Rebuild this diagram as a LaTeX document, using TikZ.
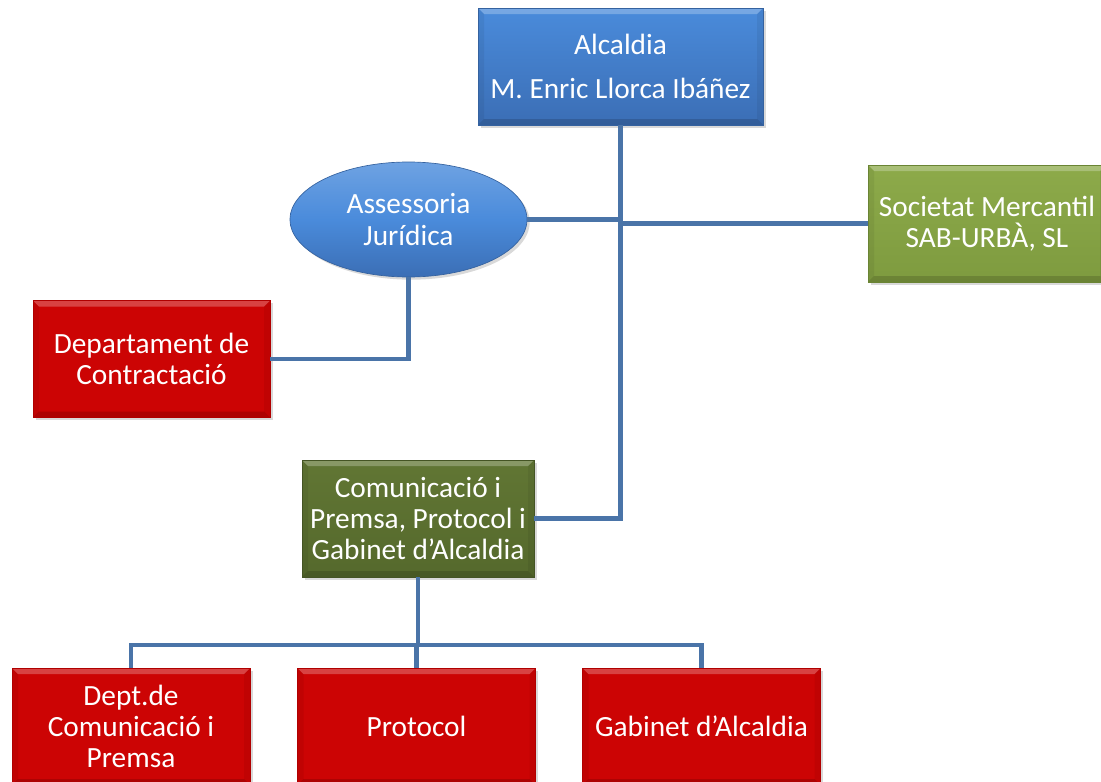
\documentclass[tikz,border=0pt]{standalone}
\usepackage{fontspec}
\setmainfont{Carlito}
\usepackage{tikz}
\usetikzlibrary{calc,shapes.geometric,shadows}

\definecolor{blueTop}{HTML}{4A8BDB}
\definecolor{blueBot}{HTML}{3B6EB5}
\definecolor{blueLine}{HTML}{35629F}
\definecolor{greenTop}{HTML}{8DAA4A}
\definecolor{greenBot}{HTML}{7E9B3F}
\definecolor{greenLine}{HTML}{6A8434}
\definecolor{olivTop}{HTML}{617634}
\definecolor{olivBot}{HTML}{55692C}
\definecolor{olivLine}{HTML}{445424}
\definecolor{redFill}{HTML}{CC0404}
\definecolor{redLine}{HTML}{B00000}
\definecolor{linkCol}{HTML}{4A74A8}

\begin{document}
\begin{tikzpicture}[x=0.75pt,y=-0.75pt,
  bevel/.style={path picture={
    \coordinate (bNW) at (path picture bounding box.north west);
    \coordinate (bNE) at (path picture bounding box.north east);
    \coordinate (bSW) at (path picture bounding box.south west);
    \coordinate (bSE) at (path picture bounding box.south east);
    \fill[white,opacity=0.25] (bNW) -- (bNE) -- ($(bNE)+(-6,6)$) -- ($(bNW)+(6,6)$) -- cycle;
    \fill[black,opacity=0.15] (bSW) -- (bSE) -- ($(bSE)+(-6,-6)$) -- ($(bSW)+(6,-6)$) -- cycle;
    \fill[black,opacity=0.06] (bNW) -- ($(bNW)+(6,6)$) -- ($(bSW)+(6,-6)$) -- (bSW) -- cycle;
    \fill[black,opacity=0.06] (bNE) -- ($(bNE)+(-6,6)$) -- ($(bSE)+(-6,-6)$) -- (bSE) -- cycle;
  }},
  orgbox/.style={rectangle, inner sep=0pt, align=center, text=white,
    font=\fontsize{22}{23.5}\selectfont, minimum width=178.5pt, minimum height=87.75pt,
    line width=0.5pt, drop shadow={opacity=0.3, shadow xshift=2pt, shadow yshift=-2pt}},
  bluebox/.style={orgbox, draw=blueLine, top color=blueTop, bottom color=blueBot, bevel},
  blueoval/.style={orgbox, ellipse, draw=blueLine, top color=blueTop!80!white,
    bottom color=blueBot, middle color=blueTop},
  greenbox/.style={orgbox, draw=greenLine, top color=greenTop, bottom color=greenBot, bevel},
  olivbox/.style={orgbox, draw=olivLine, top color=olivTop, bottom color=olivBot, bevel},
  redbox/.style={orgbox, draw=redLine, fill=redFill, bevel},
  link/.style={draw=linkCol, line width=3.6pt}]

  \useasboundingbox (0,0) rectangle (1101,782);

  %% Top of the chart
  \node[bluebox, minimum width=213.75pt] (ALC) at (620.5,66.5)
       {Alcaldia\\[9.5pt] M. Enric Llorca Ibáñez};
  \node[blueoval, minimum width=177.75pt, minimum height=86.25pt] (ASS) at (408.5,219.5)
       {Assessoria\\ Jurídica};
  \node[greenbox] (SOC) at (987,223.5) {Societat Mercantil\\ SAB-URBÀ, SL};
  \node[redbox, minimum width=177.75pt] (DEP) at (151.5,359) {Departament de\\ Contractació};
  \node[olivbox, minimum width=174pt] (COM) at (418,518.5)
       {Comunicació i\\ Premsa, Protocol i\\ Gabinet d’Alcaldia};

  %% Lower row
  \foreach \name/\x/\txt in {DPT/131/{Dept.de\\ Comunicació i\\ Premsa},
                             PRO/416.5/{Protocol},
                             GAB/701.5/{Gabinet d’Alcaldia}}
  {
    \node[redbox] (\name) at (\x,726.5) {\txt};
  }

  %% Connectors
  \draw[link] (ALC.south) |- (COM.east);
  \draw[link] (ASS.east) -- (ASS.east -| ALC.south);
  \draw[link] (SOC.west) -- (SOC.west -| ALC.south);
  \draw[link] (ASS.south) |- (DEP.east);

  \coordinate (BUS) at (418,645);
  \draw[link] (COM.south) -- (BUS);
  \foreach \name in {DPT,PRO,GAB}
  {
    \draw[link] (BUS) -| (\name.north);
  }
\end{tikzpicture}
\end{document}
